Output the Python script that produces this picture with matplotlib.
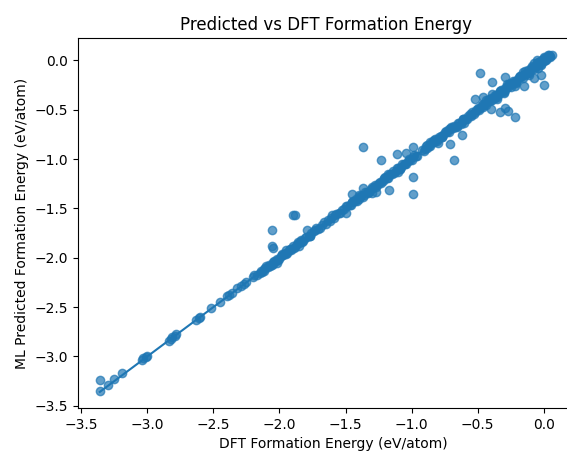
import matplotlib
matplotlib.use("Agg")
import matplotlib.pyplot as plt

# Dense band close to the parity line
band_dft = [-2.15, -2.14, -2.12, -2.11, -2.09, -2.08, -2.06, -2.05, -2.03, -2.02,
            -2.00, -1.99, -1.97, -1.96, -1.94, -1.93, -1.91, -1.90, -1.88, -1.87,
            -1.85, -1.84, -1.82, -1.80, -1.78, -1.76, -1.74, -1.71, -1.68, -1.65,
            -1.63, -1.61, -1.59, -1.57, -1.55, -1.53, -1.51, -1.49, -1.47, -1.45,
            -1.43, -1.42, -1.40, -1.38, -1.36, -1.35, -1.33, -1.31, -1.29, -1.28,
            -1.26, -1.24, -1.22, -1.21, -1.19, -1.17, -1.15, -1.14, -1.12, -1.10,
            -1.08, -1.07, -1.05, -1.03, -1.01, -0.99, -0.97, -0.92, -0.90, -0.89,
            -0.87, -0.85, -0.83, -0.82, -0.80, -0.78, -0.76, -0.75, -0.73, -0.71,
            -0.69, -0.68, -0.66, -0.64, -0.62, -0.61, -0.59, -0.57, -0.55, -0.54,
            -0.52, -0.50, -0.48, -0.47, -0.45, -0.43, -0.41, -0.40, -0.38, -0.36,
            -0.34, -0.33, -0.31, -0.29, -0.27, -0.26, -0.24, -0.22, -0.20, -0.19,
            -0.17, -0.15, -0.13, -0.12, -0.10, -0.08, -0.06, -0.05, -0.03, -0.01,
            0.00, 0.01, 0.02, 0.03, 0.04, 0.05, 0.06,
            -0.44, -0.35, -0.28, -0.22, -0.16, -0.11, -0.07, -0.04, 0.00, -0.02,
            -0.30, -0.39, -1.40, -1.30, -1.18, -1.10, -0.86, -0.80, -0.70, -0.60,
            -1.60, -1.95, -2.02, -1.85]
band_pred = [-2.15, -2.13, -2.13, -2.10, -2.09, -2.07, -2.07, -2.04, -2.03, -2.01,
             -2.01, -1.98, -1.97, -1.95, -1.95, -1.92, -1.91, -1.88, -1.89, -1.86,
             -1.85, -1.82, -1.83, -1.79, -1.78, -1.75, -1.73, -1.71, -1.67, -1.66,
             -1.62, -1.60, -1.60, -1.56, -1.55, -1.52, -1.51, -1.48, -1.47, -1.44,
             -1.43, -1.40, -1.40, -1.37, -1.36, -1.33, -1.33, -1.30, -1.29, -1.26,
             -1.26, -1.23, -1.22, -1.19, -1.19, -1.16, -1.15, -1.12, -1.12, -1.09,
             -1.08, -1.05, -1.05, -1.02, -1.01, -0.98, -0.97, -0.91, -0.90, -0.87,
             -0.87, -0.84, -0.83, -0.80, -0.80, -0.77, -0.76, -0.73, -0.73, -0.70,
             -0.69, -0.66, -0.66, -0.63, -0.62, -0.59, -0.59, -0.56, -0.55, -0.52,
             -0.52, -0.49, -0.48, -0.45, -0.45, -0.42, -0.41, -0.38, -0.38, -0.35,
             -0.34, -0.31, -0.31, -0.28, -0.27, -0.24, -0.24, -0.21, -0.20, -0.17,
             -0.17, -0.14, -0.13, -0.10, -0.10, -0.07, -0.06, -0.03, -0.03, 0.00,
             -0.01, 0.02, 0.01, 0.03, 0.04, 0.04, 0.05,
             -0.40, -0.39, -0.24, -0.26, -0.12, -0.15, -0.03, -0.08, 0.03, -0.05,
             -0.33, -0.34, -1.36, -1.34, -1.15, -1.13, -0.83, -0.84, -0.67, -0.63,
             -1.57, -1.92, -2.05, -1.88]

# Second pass through the band (more compounds near the line)
band2_dft = [-2.13, -2.10, -2.07, -2.04, -2.01, -1.98, -1.95, -1.92, -1.89, -1.86,
             -1.83, -1.81, -1.77, -1.73, -1.69, -1.66, -1.62, -1.58, -1.54, -1.50,
             -1.46, -1.44, -1.41, -1.39, -1.37, -1.34, -1.32, -1.30, -1.27, -1.25,
             -1.23, -1.20, -1.18, -1.16, -1.13, -1.11, -1.09, -1.06, -1.04, -1.02,
             -1.00, -0.98, -0.96, -0.91, -0.88, -0.86, -0.84, -0.81, -0.79, -0.77,
             -0.74, -0.72, -0.70, -0.67, -0.65, -0.63, -0.60, -0.58, -0.56, -0.53,
             -0.51, -0.49, -0.46, -0.44, -0.42, -0.39, -0.37, -0.35, -0.32, -0.30,
             -0.28, -0.25, -0.23, -0.21, -0.18, -0.16, -0.14, -0.11, -0.09, -0.07,
             -0.04, -0.02, 0.00, 0.02, 0.03, 0.05]
band2_pred = [-2.14, -2.08, -2.08, -2.03, -2.02, -1.96, -1.96, -1.91, -1.90, -1.84,
              -1.84, -1.80, -1.78, -1.72, -1.70, -1.64, -1.63, -1.57, -1.55, -1.48,
              -1.47, -1.43, -1.42, -1.37, -1.38, -1.33, -1.33, -1.28, -1.28, -1.24,
              -1.24, -1.18, -1.19, -1.15, -1.14, -1.09, -1.10, -1.05, -1.05, -1.00,
              -1.01, -0.96, -0.97, -0.92, -0.86, -0.87, -0.82, -0.82, -0.78, -0.78,
              -0.72, -0.73, -0.69, -0.68, -0.63, -0.64, -0.59, -0.59, -0.54, -0.54,
              -0.50, -0.50, -0.44, -0.45, -0.40, -0.40, -0.35, -0.37, -0.30, -0.32,
              -0.26, -0.27, -0.21, -0.23, -0.16, -0.18, -0.11, -0.13, -0.06, -0.09,
              -0.02, -0.04, 0.02, 0.00, 0.05, 0.03]

# Third pass: the crowded high-energy end of the band
band3_dft = [-0.88, -0.83, -0.77, -0.72, -0.66, -0.61, -0.55, -0.50, -0.46, -0.41,
             -0.37, -0.33, -0.29, -0.25, -0.21, -0.18, -0.14, -0.10, -0.06, -0.03,
             0.01, 0.04, -2.12, -2.05, -1.98, -1.91, -1.84, -1.77, -1.45, -1.33,
             -1.21, -1.09]
band3_pred = [-0.89, -0.81, -0.78, -0.70, -0.67, -0.59, -0.56, -0.48, -0.47, -0.39,
              -0.38, -0.31, -0.30, -0.23, -0.22, -0.16, -0.15, -0.08, -0.07, -0.01,
              0.00, 0.05, -2.11, -2.06, -1.97, -1.92, -1.83, -1.78, -1.44, -1.34,
              -1.20, -1.10]

# Sparse low-energy region
low_dft = [-3.36, -3.36, -3.30, -3.25, -3.19, -3.04, -3.03, -3.01, -3.00, -2.84,
           -2.82, -2.81, -2.79, -2.78, -2.63, -2.61, -2.60, -2.52, -2.45, -2.40,
           -2.38, -2.36, -2.32, -2.29, -2.27, -2.25, -2.20, -2.19, -2.17]
low_pred = [-3.24, -3.35, -3.29, -3.23, -3.17, -3.04, -3.02, -3.01, -3.00, -2.84,
            -2.82, -2.80, -2.79, -2.77, -2.63, -2.61, -2.60, -2.51, -2.45, -2.39,
            -2.38, -2.36, -2.31, -2.29, -2.27, -2.25, -2.20, -2.18, -2.17]

# Off-diagonal points
out_dft = [-2.06, -2.06, -2.05, -1.90, -1.88, -1.79, -1.72, -1.50, -1.45, -1.37,
           -1.37, -1.27, -1.23, -1.17, -1.11, -1.04, -0.99, -0.99, -0.99, -0.71,
           -0.68, -0.62, -0.52, -0.46, -0.48, -0.40, -0.39, -0.33, -0.29, -0.29,
           -0.27, -0.22, -0.15, -0.07, -0.02, 0.00, -0.05]
out_pred = [-1.72, -1.88, -1.90, -1.57, -1.57, -1.72, -1.70, -1.55, -1.35, -0.88,
            -1.29, -1.33, -1.01, -1.31, -0.95, -0.94, -0.88, -1.18, -1.35, -0.85,
            -1.01, -0.76, -0.39, -0.37, -0.13, -0.49, -0.22, -0.52, -0.48, -0.17,
            -0.51, -0.57, -0.26, -0.18, -0.15, -0.25, 0.00]

dft = low_dft + band_dft + band2_dft + band3_dft + out_dft
pred = low_pred + band_pred + band2_pred + band3_pred + out_pred

fig = plt.figure(figsize=(5.67, 4.51), dpi=100)
ax = fig.add_axes([78 / 567, 43 / 451, 510 / 567, 370 / 451])
ax.scatter(dft, pred, alpha=0.7)
lo, hi = min(dft), max(dft)
ax.plot([lo, hi], [lo, hi])
ax.set_xlim(-3.525, 0.335)
ax.set_ylim(-3.523, 0.227)
ax.set_xlabel("DFT Formation Energy (eV/atom)")
ax.set_ylabel("ML Predicted Formation Energy (eV/atom)")
ax.set_title("Predicted vs DFT Formation Energy", x=496 / 510 / 2)
fig.savefig("out.png", dpi=100)
